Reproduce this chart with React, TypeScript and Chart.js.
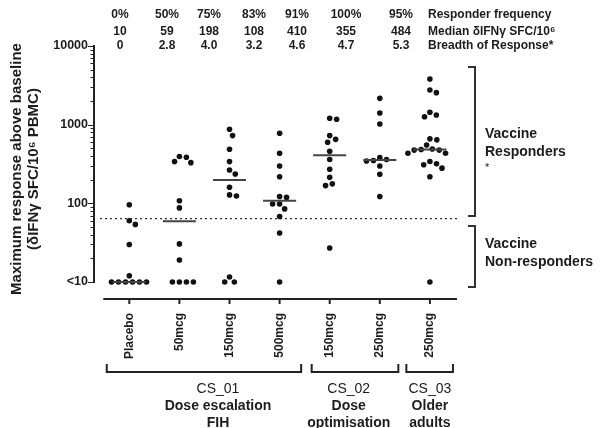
import React, { useEffect, useRef } from 'react';
import { Chart, registerables } from 'chart.js';
Chart.register(...registerables);

// ---------- DATA ----------
const categories = ['Placebo', '50mcg', '150mcg', '500mcg', '150mcg', '250mcg', '250mcg'];
const placebo = [96, 60, 54, 30, 12, 10, 10, 10, 10, 10, 10];
const cs01_50 = [393, 385, 339, 329, 108, 87.5, 30.5, 19, 10, 10, 10, 10];
const cs01_150 = [873, 726, 486, 339, 265, 236, 160, 128, 124, 11.6, 10, 10];
const cs01_500 = [778, 433, 298, 218, 122, 119, 98, 98, 85, 68, 42, 10];
const cs02_150 = [1205, 1170, 726, 651, 597, 460, 360, 271, 214, 177, 168, 27];
const cs02_250 = [2160, 1410, 1020, 381, 360, 350, 345, 298, 234, 122];
const cs03_250 = [3811, 2762, 2553, 1437, 1328, 1260, 660, 641, 551, 490, 484, 475, 475, 434, 434, 340, 318, 309, 280, 218, 10];
const groupValues = [placebo, cs01_50, cs01_150, cs01_500, cs02_150, cs02_250, cs03_250];
const medians = [10, 59, 198, 108, 410, 355, 484];
const responderFrequency = ['0%', '50%', '75%', '83%', '91%', '100%', '95%'];
const medianLabels = ['10', '59', '198', '108', '410', '355', '484'];
const breadth = ['0', '2.8', '4.0', '3.2', '4.6', '4.7', '5.3'];
const rowTitles = ['Responder frequency', 'Median \u03b4IFN\u03b3 SFC/10\u2076', 'Breadth of Response*'];
const threshold = 64;
const yTickValues = [10, 20, 30, 40, 50, 60, 70, 80, 90, 100, 200, 300, 400, 500, 600, 700, 800, 900, 1000, 2000, 3000, 4000, 5000, 6000, 7000, 8000, 9000, 10000];
const yTickLabels: Record<number, string> = { 10: '<10', 100: '100', 1000: '1000', 10000: '10000' };
const studies = [
  { name: 'CS_01', lines: ['Dose escalation', 'FIH'] },
  { name: 'CS_02', lines: ['Dose', 'optimisation'] },
  { name: 'CS_03', lines: ['Older', 'adults'] },
];
const yTitle = ['Maximum response above baseline', '(\u03b4IFN\u03b3 SFC/10\u2076 PBMC)'];
const sideLabels = [['Vaccine', 'Responders', '*'], ['Vaccine', 'Non-responders']];

// ---------- LAYOUT (not data) ----------
const FONT = '"Liberation Sans", Arial, Helvetica, sans-serif';
const INK = '#1c1c1c';
const topColX = [120, 167, 209, 254, 297, 346, 401];
const topRowY = [15, 32, 46];
const topTitleX = 428;
const studyExtent = [[-0.45, 3.43], [3.64, 5.37], [5.53, 6.46]];
const studyTextX = [1.77, 4.38, 6.0];
const PX_DECADE = 78.7;
const PX_CAT = 50.1;
const MIN_D = 7;

function swarm(values: number[]): number[] {
  const order = values.map((_, i) => i).sort((a, b) => values[b] - values[a]);
  const placed: { y: number; x: number }[] = [];
  const offs = new Array(values.length).fill(0);
  for (const i of order) {
    const y = Math.log10(values[i]) * PX_DECADE;
    const iv: [number, number][] = [];
    for (const p of placed) {
      const dy = Math.abs(p.y - y);
      if (dy < MIN_D) {
        const w = Math.sqrt(MIN_D * MIN_D - dy * dy);
        iv.push([p.x - w, p.x + w]);
      }
    }
    const cands = [0];
    iv.forEach(([a, b]) => cands.push(a, b));
    cands.sort((a, b) => Math.abs(a) - Math.abs(b) || b - a);
    let best = 0;
    for (const c of cands) {
      if (iv.every(([a, b]) => c <= a + 1e-6 || c >= b - 1e-6)) { best = c; break; }
    }
    placed.push({ y, x: best });
    offs[i] = best / PX_CAT;
  }
  return offs;
}

function txt(ctx: CanvasRenderingContext2D, s: string, x: number, y: number, font: string, align: CanvasTextAlign = 'center') {
  ctx.font = font;
  ctx.textAlign = align;
  ctx.textBaseline = 'middle';
  ctx.fillStyle = INK;
  ctx.fillText(s, x, y);
}

const decor = {
  id: 'decor',
  beforeDatasetsDraw(chart: any) {
    const { ctx, chartArea, scales } = chart;
    const y = scales.y;
    const ty = y.getPixelForValue(threshold);
    ctx.save();
    ctx.setLineDash([2, 3]);
    ctx.strokeStyle = '#333';
    ctx.lineWidth = 1.2;
    ctx.beginPath();
    ctx.moveTo(chartArea.left + 5, ty);
    ctx.lineTo(chartArea.right, ty);
    ctx.stroke();
    ctx.restore();
  },
  afterDraw(chart: any) {
    const { ctx, chartArea, scales } = chart;
    const x = scales.x, y = scales.y;
    ctx.save();
    ctx.strokeStyle = '#222';
    ctx.lineWidth = 2;
    // y axis
    const ax = chartArea.left - 1;
    ctx.beginPath();
    ctx.moveTo(ax, y.getPixelForValue(10000) - 1);
    ctx.lineTo(ax, y.getPixelForValue(10) + 1);
    ctx.stroke();
    ctx.lineWidth = 1;
    yTickValues.forEach((v) => {
      const py = Math.round(y.getPixelForValue(v)) + 0.5;
      const len = yTickLabels[v] ? 6 : 3.5;
      ctx.beginPath();
      ctx.moveTo(ax - len, py);
      ctx.lineTo(ax, py);
      ctx.stroke();
    });
    // x axis
    const by = chartArea.bottom;
    ctx.lineWidth = 2;
    ctx.beginPath();
    ctx.moveTo(x.getPixelForValue(-0.52), by);
    ctx.lineTo(chartArea.right, by);
    ctx.stroke();
    categories.forEach((_, i) => {
      const px = x.getPixelForValue(i);
      ctx.beginPath();
      ctx.moveTo(px, by);
      ctx.lineTo(px, by + 5);
      ctx.stroke();
    });
    // category labels
    categories.forEach((c, i) => {
      const px = x.getPixelForValue(i);
      ctx.save();
      ctx.translate(px, by + 14);
      ctx.rotate(-Math.PI / 2);
      txt(ctx, c, 0, 0, `bold 12px ${FONT}`, 'right');
      ctx.restore();
    });
    // study brackets
    studies.forEach((s, k) => {
      const x0 = x.getPixelForValue(studyExtent[k][0]);
      const x1 = x.getPixelForValue(studyExtent[k][1]);
      ctx.strokeStyle = '#222';
      ctx.lineWidth = 2;
      ctx.beginPath();
      ctx.moveTo(x0, 364);
      ctx.lineTo(x0, 372);
      ctx.lineTo(x1, 372);
      ctx.lineTo(x1, 364);
      ctx.stroke();
      const cx = x.getPixelForValue(studyTextX[k]);
      txt(ctx, s.name, cx, 389, `14px ${FONT}`);
      s.lines.forEach((l, j) => txt(ctx, l, cx, 406 + j * 17, `bold 14px ${FONT}`));
    });
    // top table
    const rows = [responderFrequency, medianLabels, breadth];
    rows.forEach((r, ri) => {
      r.forEach((s, i) => txt(ctx, s, topColX[i], topRowY[ri], `bold 12px ${FONT}`));
      txt(ctx, rowTitles[ri], topTitleX, topRowY[ri], `bold 12px ${FONT}`, 'left');
    });
    // y title
    ctx.save();
    ctx.translate(17, 169);
    ctx.rotate(-Math.PI / 2);
    txt(ctx, yTitle[0], 0, 0, `bold 15px ${FONT}`);
    txt(ctx, yTitle[1], 0, 17, `bold 15px ${FONT}`);
    ctx.restore();
    // side brackets
    ctx.strokeStyle = '#333';
    ctx.lineWidth = 2;
    [[67, 216], [226, 287]].forEach(([t, b]) => {
      ctx.beginPath();
      ctx.moveTo(468, t);
      ctx.lineTo(475, t);
      ctx.lineTo(475, b);
      ctx.lineTo(468, b);
      ctx.stroke();
    });
    txt(ctx, sideLabels[0][0], 485, 134, `bold 14px ${FONT}`, 'left');
    txt(ctx, sideLabels[0][1], 485, 152, `bold 14px ${FONT}`, 'left');
    txt(ctx, sideLabels[0][2], 485, 168, `11px ${FONT}`, 'left');
    txt(ctx, sideLabels[1][0], 485, 244, `bold 14px ${FONT}`, 'left');
    txt(ctx, sideLabels[1][1], 485, 262, `bold 14px ${FONT}`, 'left');
    ctx.restore();
  },
};

export default function App() {
  const ref = useRef<HTMLCanvasElement>(null);
  useEffect(() => {
    const canvas = ref.current!;
    const points: { x: number; y: number }[] = [];
    groupValues.forEach((vals, i) => {
      const offs = swarm(vals);
      vals.forEach((v, j) => points.push({ x: i + offs[j], y: v }));
    });
    const medianSets = medians.map((m, i) => ({
      data: [{ x: i - 0.33, y: m }, { x: i + 0.33, y: m }],
      showLine: true,
      borderColor: '#444',
      borderWidth: 2,
      pointRadius: 0,
      clip: false as any,
    }));
    const chart = new Chart(canvas, {
      type: 'scatter',
      data: {
        datasets: [
          ...medianSets,
          {
            data: points,
            pointRadius: 2.8,
            pointBackgroundColor: '#111',
            pointBorderColor: '#111',
            pointBorderWidth: 0,
            clip: false as any,
          },
        ],
      },
      plugins: [decor],
      options: {
        animation: false,
        responsive: false,
        devicePixelRatio: 1,
        layout: { padding: { left: 0, top: 46, right: 144, bottom: 129 } },
        plugins: { legend: { display: false }, tooltip: { enabled: false } },
        scales: {
          x: { type: 'linear', min: -0.685, max: 6.541, display: false },
          y: {
            type: 'logarithmic',
            min: 6.08,
            max: 10000,
            bounds: 'data',
            afterBuildTicks: (s: any) => { s.ticks = yTickValues.map((v) => ({ value: v })); },
            afterFit: (s: any) => { s.width = 95; s.paddingTop = 0; s.paddingBottom = 0; },
            grid: { display: false, drawTicks: false },
            border: { display: false },
            ticks: {
              autoSkip: false,
              padding: 7,
              color: INK,
              font: { family: FONT, size: 12.5, weight: 'bold' },
              callback: (v: any) => yTickLabels[Number(v)] ?? '',
            },
          },
        },
      } as any,
    });
    return () => chart.destroy();
  }, []);
  return (
    <div style={{ position: 'fixed', left: 0, top: 0, width: 601, height: 428, background: '#fff' }}>
      <canvas ref={ref} width={601} height={428} style={{ width: 601, height: 428, display: 'block' }} />
    </div>
  );
}
